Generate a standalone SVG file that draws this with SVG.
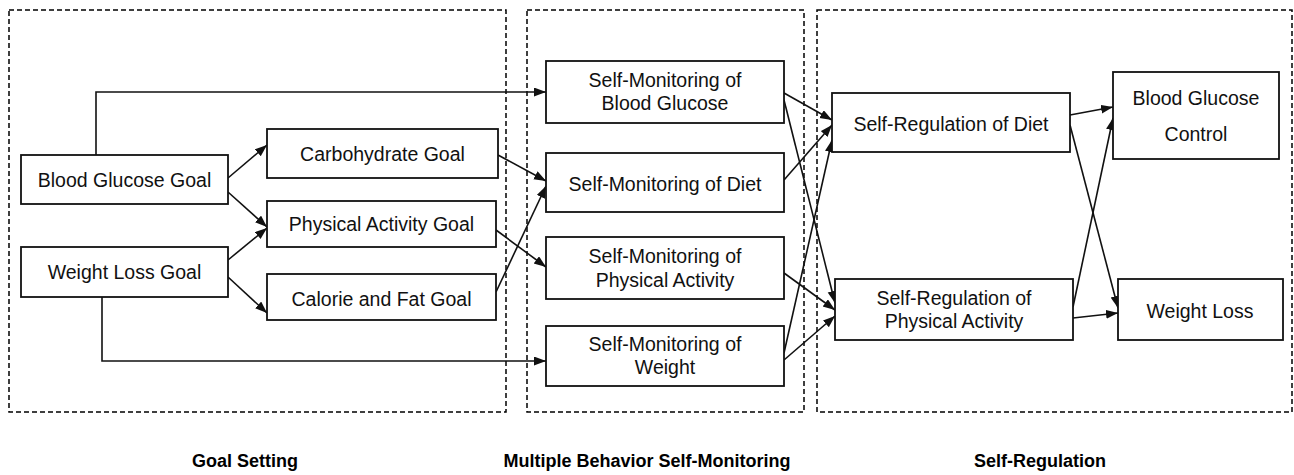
<svg xmlns="http://www.w3.org/2000/svg" width="1294" height="475" viewBox="0 0 1294 475">
<style>
.bg{fill:#fff}
.zone{fill:none;stroke:#000;stroke-width:1.5;stroke-dasharray:5,3}
.box{fill:#fff;stroke:#111;stroke-width:1.8}
.t{font-family:"Liberation Sans",Arial,sans-serif;font-size:19.5px;fill:#111;text-anchor:middle}
.lab{font-family:"Liberation Sans",Arial,sans-serif;font-size:18px;font-weight:bold;fill:#000;text-anchor:middle}
.c{fill:none;stroke:#111;stroke-width:1.6;marker-end:url(#ah)}
</style>
<defs>
<marker id="ah" markerUnits="userSpaceOnUse" markerWidth="13" markerHeight="10" refX="12" refY="4.5" orient="auto">
<path d="M0,0 L12,4.5 L0,9 z" fill="#111"/>
</marker>
</defs>
<rect class="bg" x="0" y="0" width="1294" height="475"/>
<g id="zones">
<rect class="zone" x="9" y="10" width="497" height="402"/>
<rect class="zone" x="527" y="10" width="277" height="402"/>
<rect class="zone" x="817" y="10" width="475" height="402"/>
</g>
<g id="connectors">
<path class="c" d="M96,155 V92 H546"/>
<path class="c" d="M102,297 V361 H546"/>
<path class="c" d="M228,178 L267,145"/>
<path class="c" d="M228,192 L267,227"/>
<path class="c" d="M228,260 L267,228"/>
<path class="c" d="M228,277 L267,313"/>
<path class="c" d="M498,155 L546,181"/>
<path class="c" d="M496,292 L546,186"/>
<path class="c" d="M496,230 L546,267"/>
<path class="c" d="M784,93 L832,120"/>
<path class="c" d="M784,100 L835,303"/>
<path class="c" d="M784,180 L832,125"/>
<path class="c" d="M784,273 L835,310"/>
<path class="c" d="M784,353 L832,140"/>
<path class="c" d="M784,360 L835,316"/>
<path class="c" d="M1070,115 L1113,107"/>
<path class="c" d="M1070,125 L1118,308"/>
<path class="c" d="M1073,307 L1113,118"/>
<path class="c" d="M1073,318 L1118,313"/>
</g>
<g id="blood-glucose-goal"><rect class="box" x="21" y="155" width="207" height="49"/><text class="t" x="124.5" y="187">Blood Glucose Goal</text></g>
<g id="weight-loss-goal"><rect class="box" x="21" y="247" width="207" height="50"/><text class="t" x="124.5" y="279">Weight Loss Goal</text></g>
<g id="carbohydrate-goal"><rect class="box" x="267" y="129" width="231" height="49"/><text class="t" x="382.5" y="161">Carbohydrate Goal</text></g>
<g id="physical-activity-goal"><rect class="box" x="267" y="201" width="229" height="46"/><text class="t" x="381.5" y="231">Physical Activity Goal</text></g>
<g id="calorie-fat-goal"><rect class="box" x="267" y="274" width="229" height="46"/><text class="t" x="381.5" y="306">Calorie and Fat Goal</text></g>
<g id="sm-blood-glucose"><rect class="box" x="546" y="61" width="238" height="62"/><text class="t" x="665" y="87">Self-Monitoring of</text><text class="t" x="665" y="110">Blood Glucose</text></g>
<g id="sm-diet"><rect class="box" x="546" y="153" width="238" height="59"/><text class="t" x="665" y="191">Self-Monitoring of Diet</text></g>
<g id="sm-physical-activity"><rect class="box" x="546" y="237" width="238" height="62"/><text class="t" x="665" y="263">Self-Monitoring of</text><text class="t" x="665" y="287">Physical Activity</text></g>
<g id="sm-weight"><rect class="box" x="546" y="326" width="238" height="60"/><text class="t" x="665" y="351">Self-Monitoring of</text><text class="t" x="665" y="374">Weight</text></g>
<g id="sr-diet"><rect class="box" x="832" y="93" width="238" height="59"/><text class="t" x="951" y="131">Self-Regulation of Diet</text></g>
<g id="sr-physical-activity"><rect class="box" x="835" y="279" width="238" height="61"/><text class="t" x="954" y="305">Self-Regulation of</text><text class="t" x="954" y="328">Physical Activity</text></g>
<g id="blood-glucose-control"><rect class="box" x="1113" y="72" width="166" height="87"/><text class="t" x="1196" y="105">Blood Glucose</text><text class="t" x="1196" y="141">Control</text></g>
<g id="weight-loss"><rect class="box" x="1118" y="279" width="165" height="61"/><text class="t" x="1200" y="318">Weight Loss</text></g>
<g id="labels">
<text class="lab" x="245" y="467">Goal Setting</text>
<text class="lab" x="647" y="467">Multiple Behavior Self-Monitoring</text>
<text class="lab" x="1040" y="467">Self-Regulation</text>
</g>
</svg>
